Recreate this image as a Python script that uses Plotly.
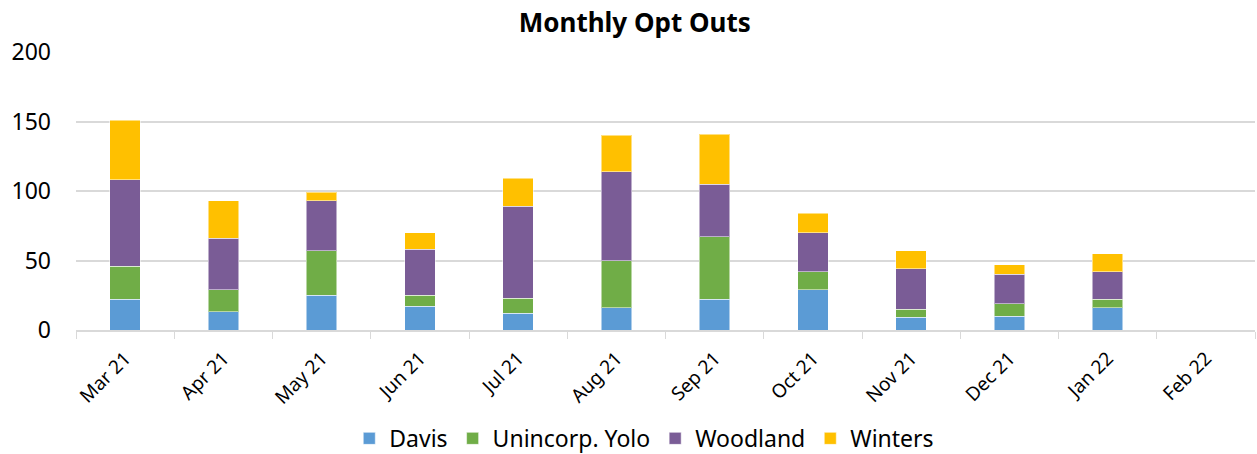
import plotly.graph_objects as go

months = ["Mar 21", "Apr 21", "May 21", "Jun 21", "Jul 21", "Aug 21",
          "Sep 21", "Oct 21", "Nov 21", "Dec 21", "Jan 22", "Feb 22"]
davis = [22, 13, 25, 17, 12, 16, 22, 29, 9, 10, 16, 0]
unincorp_yolo = [24, 16, 32, 8, 11, 34, 45, 13, 6, 9, 6, 0]
woodland = [62, 37, 36, 33, 66, 64, 38, 28, 29, 21, 20, 0]
winters = [43, 27, 6, 12, 20, 26, 36, 14, 13, 7, 13, 0]

series = [("Davis", davis, "#5b9bd5"),
          ("Unincorp. Yolo", unincorp_yolo, "#70ad47"),
          ("Woodland", woodland, "#7a5c96"),
          ("Winters", winters, "#ffc000")]

fig = go.Figure()
for name, vals, color in series:
    fig.add_trace(go.Bar(x=months, y=vals, name=name,
                         marker=dict(color=color, line=dict(color="rgba(255,255,255,0.5)", width=1))))

font = "Noto Sans, Open Sans, sans-serif"
fig.update_layout(
    barmode="stack",
    bargap=0.69,
    width=1257, height=454,
    margin=dict(l=76, r=2, t=52, b=124, autoexpand=False),
    plot_bgcolor="white", paper_bgcolor="white",
    font=dict(family=font, color="#000000"),
    title=dict(text="<b>Monthly Opt Outs</b>", x=0.505, xanchor="center",
               y=0.95, yanchor="middle", font=dict(size=26, color="#000000"),
               automargin=False),
    legend=dict(orientation="h", x=0.482, xanchor="center", y=-0.39, yanchor="middle",
                font=dict(size=23), itemwidth=30, traceorder="normal"),
    xaxis=dict(type="category", tickson="boundaries", ticks="outside", ticklen=7,
               tickcolor="#d9d9d9", showline=True, linecolor="#d9d9d9", linewidth=1.5,
               tickangle=-45, tickfont=dict(size=19), showgrid=False, automargin=False,
               ticklabelstandoff=8),
    yaxis=dict(range=[0, 200], tickvals=[0, 50, 100, 150, 200], showgrid=True,
               gridcolor="#d9d9d9", gridwidth=1.5, zeroline=False, showline=False,
               tickfont=dict(size=23), ticklabelstandoff=24, automargin=False),
)
fig.write_html("out.html", config={"displayModeBar": False},
               post_script="document.body.style.margin='0';")
